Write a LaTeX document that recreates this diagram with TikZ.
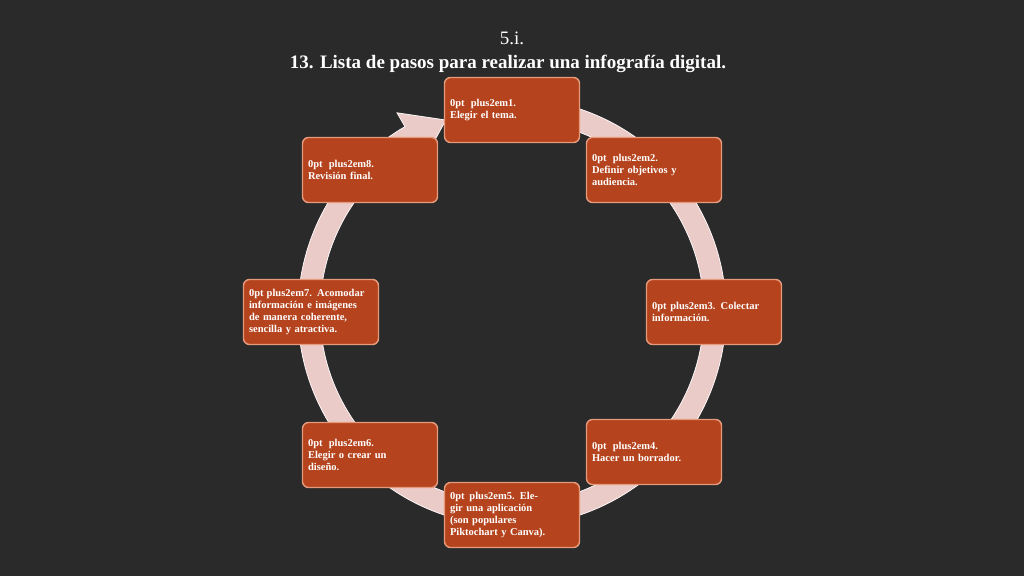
\documentclass[tikz,border=0pt]{standalone}
\usepackage{fontspec}
\setmainfont{Liberation Serif}
\usetikzlibrary{calc}
\begin{document}
\begin{tikzpicture}[x=1pt,y=1pt,
  stepbox/.style={draw=boxedge,line width=1.4pt,fill=boxfill,rounded corners=6pt,minimum width=135pt,minimum height=65pt,text width=124pt,align=center,text=white,font=\fontsize{10.5}{12}\selectfont\bfseries\hyphenpenalty=10000\exhyphenpenalty=10000},
  ttl/.style={text=white,font=\fontsize{19}{21}\selectfont}]
\definecolor{bg}{HTML}{2A2A2A}
\definecolor{boxfill}{HTML}{B5441E}
\definecolor{boxedge}{HTML}{E59A7C}
\definecolor{ring}{HTML}{EBCBC7}
\fill[bg] (0,0) rectangle (1024,576);
\useasboundingbox (0,0) rectangle (1024,576);
\coordinate (c) at (512,264);
\fill[ring,draw=white!85!ring,line width=0.8pt] ($(c)+(80:214)$) arc[start angle=80,end angle=-240,radius=214] -- ($(c)+(-240:230)$) -- ($(c)+(-251:203)$) -- ($(c)+(-240:176)$) -- ($(c)+(-240:192)$) arc[start angle=-240,end angle=80,radius=192] -- cycle;
\node[ttl] (t1) at (512,538) {5.i.};
\node[ttl,font=\fontsize{19}{21}\selectfont\bfseries] (t2) at (508,512) {13. Lista de pasos para realizar una infografía digital.};
\node[stepbox] (s1) at (512,466) {1. Elegir el tema.};
\node[stepbox] (s2) at (654,406) {2. Definir objetivos y\\ audiencia.};
\node[stepbox] (s3) at (714,264) {3. Colectar\\ información.};
\node[stepbox] (s4) at (654,124) {4. Hacer un borrador.};
\node[stepbox] (s5) at (512,61) {5. Elegir una aplicación\\ (son populares\\ Piktochart y Canva).};
\node[stepbox] (s6) at (370,121) {6. Elegir o crear un\\ diseño.};
\node[stepbox] (s7) at (311,264) {7. Acomodar\\ información e imágenes\\ de manera coherente,\\ sencilla y atractiva.};
\node[stepbox] (s8) at (370,406) {8. Revisión final.};
\end{tikzpicture}
\end{document}
